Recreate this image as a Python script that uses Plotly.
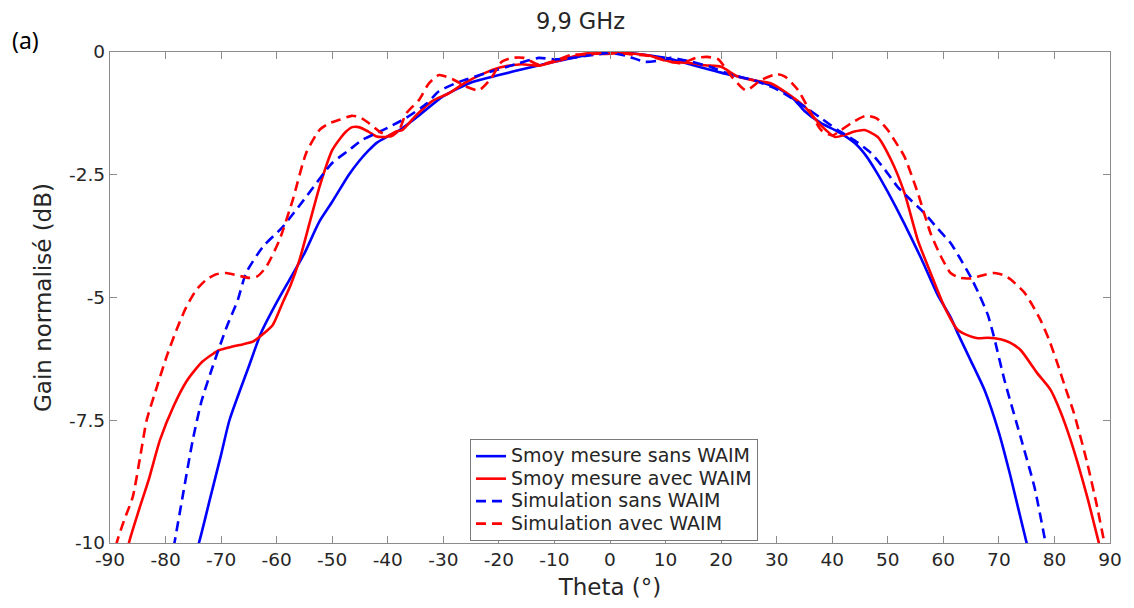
import plotly.graph_objects as go

# ---------------- data ----------------
theta_meas_sans = [-75, -74, -72, -70, -68.5, -65, -62.8, -60, -57.7, -55, -52.3, -50, -47, -45, -43.4,
                   -42, -40, -38, -35, -30, -25, -20, -15, -10, -5, 0, 5, 10, 15, 20, 25, 30, 33, 35,
                   38, 41, 44, 46, 48, 50, 53, 56, 59, 61.3, 62.6, 65, 67.4, 70, 72, 75, 76]
gain_meas_sans = [-10.3, -10, -9.1, -8.2, -7.5, -6.4, -5.72, -5.1, -4.64, -4.1, -3.45, -3.05, -2.5, -2.2, -2.0,
                  -1.85, -1.72, -1.6, -1.35, -0.9, -0.62, -0.47, -0.33, -0.2, -0.08, 0, -0.04, -0.12, -0.27, -0.42,
                  -0.55, -0.72, -0.95, -1.2, -1.45, -1.62, -1.85, -2.1, -2.45, -2.85, -3.5, -4.2, -4.95, -5.4,
                  -5.73, -6.3, -6.88, -7.75, -8.6, -10, -10.4]

theta_meas_avec = [-87, -86.6, -85, -83, -81, -78.5, -76.3, -74.5, -73.3, -71.5, -70.3, -68, -66, -64.3, -62.5,
                   -60.7, -58.9, -57.5, -55.9, -54, -52.3, -50, -48.5, -47.5, -46.4, -45.2, -43.5, -42, -40.3,
                   -38.5, -37.4, -35, -32, -29, -26, -23, -20, -16, -12.8, -10, -6.9, -4.4, -0.8, 2, 3.9, 7, 11,
                   14, 17.1, 20, 23, 26, 29, 31.5, 35, 38, 40.5, 42.2, 44, 45.8, 48.2, 50.6, 53, 55.4, 57.7,
                   60.2, 62.6, 64, 66.2, 68, 70.3, 72, 73.9, 76.9, 79.3, 81, 82.9, 85.9, 88, 88.5]
gain_meas_avec = [-10.3, -10, -9.4, -8.7, -7.9, -7.2, -6.72, -6.45, -6.3, -6.15, -6.07, -6.0, -5.95, -5.9, -5.75,
                  -5.56, -5.1, -4.75, -4.24, -3.45, -2.75, -2.0, -1.75, -1.62, -1.53, -1.53, -1.62, -1.72, -1.73,
                  -1.62, -1.59, -1.3, -1.0, -0.84, -0.62, -0.45, -0.32, -0.25, -0.28, -0.2, -0.1, -0.03, -0.04,
                  -0.02, -0.03, -0.07, -0.2, -0.22, -0.27, -0.3, -0.5, -0.58, -0.64, -0.81, -1.11, -1.5, -1.73,
                  -1.69, -1.62, -1.59, -1.73, -2.2, -2.87, -3.83, -4.5, -5.19, -5.66, -5.75, -5.83, -5.82, -5.85,
                  -5.92, -6.07, -6.54, -6.88, -7.3, -7.9, -9.06, -10, -10.2]

theta_sim_sans = [-79, -78.4, -77, -75.1, -73.5, -71.5, -69, -67, -65.5, -62.5, -58.9, -54.7, -50, -47, -44.6,
                  -42, -39.8, -36.8, -33, -30.8, -27.2, -22, -16.4, -12.8, -10, -6.9, -3, 0, 3, 6.3, 8.5, 11,
                  14.7, 18, 21.9, 26, 30.2, 35.1, 38, 41, 44, 47, 49.5, 51.8, 54, 56.6, 59, 61.3, 63, 65, 66.5,
                  68, 69, 71, 73.9, 76.4, 78.4, 79]
gain_sim_sans = [-10.4, -10, -9.1, -7.9, -7.1, -6.4, -5.6, -5.05, -4.5, -3.97, -3.56, -2.95, -2.26, -2.0, -1.79,
                 -1.65, -1.53, -1.35, -1.05, -0.8, -0.61, -0.42, -0.23, -0.12, -0.15, -0.12, -0.06, -0.02, -0.08,
                 -0.2, -0.18, -0.12, -0.2, -0.3, -0.47, -0.58, -0.77, -1.12, -1.35, -1.59, -1.8, -2.06, -2.4,
                 -2.75, -3.0, -3.28, -3.6, -3.89, -4.2, -4.6, -4.95, -5.35, -5.75, -6.68, -7.84, -8.86, -10, -10.4]

theta_sim_avec = [-90, -88.8, -87.5, -85.9, -84.5, -83.4, -81.5, -79.8, -78, -76.3,
                  -74.5, -72.7, -71, -69.1, -67, -65, -63.5, -61.9, -59.5, -57.1,
                  -54.7, -52.3, -50.5, -48.7, -46.5, -45, -43.4, -41.5, -39.5, -38,
                  -36.7, -34.4, -32.6, -30.8, -28.4, -26, -23.6, -21.5, -19.5, -17.7,
                  -15.5, -12.8, -10, -7, -4, 0, 4, 7, 10, 12.8,
                  15.5, 17.5, 19.5, 21.9, 24.5, 27.2, 30, 31.5, 33.8, 36.2,
                  38, 40, 41.5, 43.4, 46, 48, 50, 51.5, 53, 55.4,
                  57.7, 59.5, 61.3, 63, 65, 67, 69.2, 71, 72.2, 74.6,
                  76, 77.5, 79, 80.5, 82, 83.5, 85.9, 87.7, 89, 90]
gain_sim_avec = [-10.7, -10, -9.55, -9.06, -8.2, -7.5, -6.8, -6.2, -5.65, -5.2,
                 -4.85, -4.64, -4.53, -4.5, -4.55, -4.6, -4.57, -4.38, -3.83, -3.01,
                 -2.06, -1.59, -1.45, -1.38, -1.3, -1.33, -1.45, -1.62, -1.72, -1.6,
                 -1.25, -0.98, -0.64, -0.47, -0.55, -0.7, -0.78, -0.55, -0.2, -0.12,
                 -0.12, -0.26, -0.18, -0.06, -0.05, 0, -0.05, -0.08, -0.18, -0.23,
                 -0.12, -0.1, -0.15, -0.5, -0.78, -0.57, -0.45, -0.5, -0.77, -1.25,
                 -1.59, -1.7, -1.6, -1.45, -1.3, -1.35, -1.59, -1.85, -2.13, -2.87,
                 -3.69, -4.15, -4.5, -4.6, -4.61, -4.55, -4.5, -4.55, -4.64, -4.9,
                 -5.15, -5.46, -5.85, -6.33, -6.85, -7.35, -8.37, -9.27, -10, -10.5]

series_names = ["Smoy mesure sans WAIM", "Smoy mesure avec WAIM",
                "Simulation sans WAIM", "Simulation avec WAIM"]
x_ticks = list(range(-90, 91, 10))
y_ticks = [0, -2.5, -5, -7.5, -10]
y_tick_labels = ["0", "-2.5", "-5", "-7.5", "-10"]

for a, b in [(theta_meas_sans, gain_meas_sans), (theta_meas_avec, gain_meas_avec),
             (theta_sim_sans, gain_sim_sans), (theta_sim_avec, gain_sim_avec)]:
    assert len(a) == len(b), (len(a), len(b))

# ---------------- figure ----------------
FONT = "DejaVu Sans"
TXT = "#262626"
AX = "#8c8c8c"

fig = go.Figure()
styles = [("#0000ff", "solid"), ("#ff0000", "solid"), ("#0000ff", "10px,6px"), ("#ff0000", "10px,6px")]
data = [(theta_meas_sans, gain_meas_sans), (theta_meas_avec, gain_meas_avec),
        (theta_sim_sans, gain_sim_sans), (theta_sim_avec, gain_sim_avec)]
for (xs, ys), name, (col, dash) in zip(data, series_names, styles):
    fig.add_trace(go.Scatter(x=xs, y=ys, mode="lines",
                             name='<span style="font-size:19px">' + name + '</span>',
                             line=dict(color=col, width=2.6, dash=dash, shape="spline", smoothing=0.6)))

axis_common = dict(showgrid=False, zeroline=False, showline=True, linecolor=AX, linewidth=1.3,
                   mirror="allticks", ticks="inside", ticklen=7, tickcolor=AX, tickwidth=1.3,
                   tickfont=dict(family=FONT, size=18.5, color=TXT))

# page has an 8px body margin: figure is 1126x600 placed at (8, 8)
fig.update_layout(
    width=1126, height=600,
    margin=dict(l=102, r=21, t=44, b=65),
    paper_bgcolor="white", plot_bgcolor="white",
    font=dict(family=FONT, color=TXT),
    title=dict(text="9,9 GHz", x=(580.5 - 8) / 1126, xanchor="center",
               y=1 - (21 - 8) / 600, yanchor="middle",
               font=dict(family=FONT, size=22.5, color=TXT)),
    xaxis=dict(range=[-90, 90], tickvals=x_ticks, ticktext=[str(v) for v in x_ticks],
               title=dict(text="Theta (°)", font=dict(family=FONT, size=23, color=TXT), standoff=9),
               **axis_common),
    yaxis=dict(range=[-10, 0], tickvals=y_ticks, ticktext=y_tick_labels,
               title=dict(text="Gain normalisé (dB)", font=dict(family=FONT, size=23, color=TXT), standoff=10),
               **axis_common),
    legend=dict(x=0.36, y=0.212, xanchor="left", yanchor="top",
                bgcolor="white", bordercolor="#7a7a7a", borderwidth=1,
                font=dict(family=FONT, size=15, color=TXT),
                tracegroupgap=0, itemwidth=30),
    showlegend=True,
)
fig.add_annotation(text="(a)", xref="paper", yref="paper", x=(10 - 110) / 1003, y=(543 - 40) / 491,
                   xanchor="left", yanchor="middle", showarrow=False,
                   font=dict(family="Noto Sans", size=23, color="black"))

fig.write_html("out.html")
